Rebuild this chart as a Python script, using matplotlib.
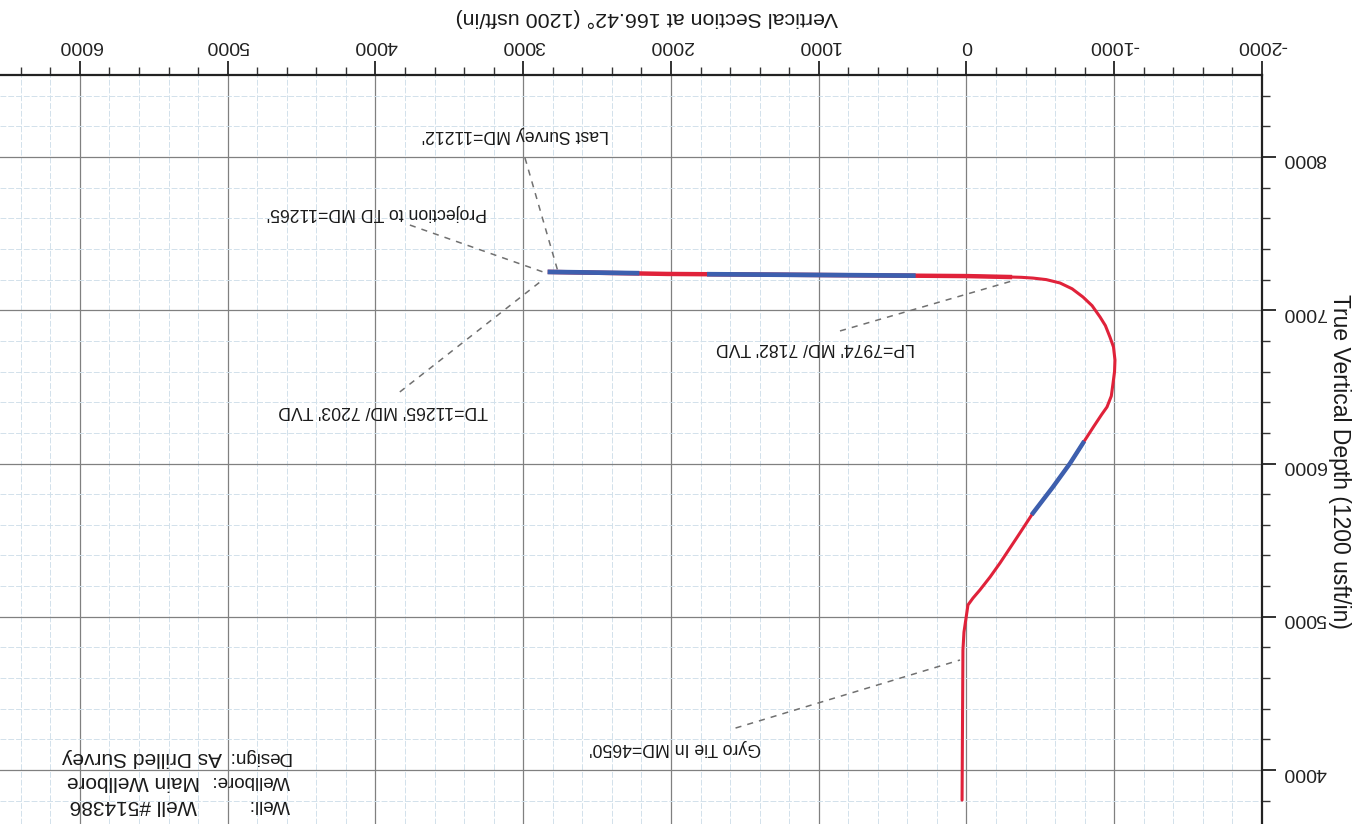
import matplotlib
matplotlib.use("Agg")
import matplotlib.pyplot as plt
from matplotlib.ticker import MultipleLocator

plt.rcParams['font.family'] = ['Liberation Sans', 'DejaVu Sans']
plt.rcParams['axes.unicode_minus'] = False

vs = [30, 24, 17, 10, -10, -44, -91, -160, -227, -340, -450, -585, -700,
      -789, -860, -915, -951, -980, -992, -1002, -1005, -995, -971, -940,
      -904, -850, -789, -715, -633, -540, -450, -370, -294, -3, 992, 2027,
      2819]
tvd = [3804, 4783, 4900, 4946, 5077, 5122, 5175, 5260, 5351, 5515, 5677,
       5847, 6000, 6134, 6240, 6320, 6369, 6440, 6525, 6600, 6675, 6760,
       6825, 6900, 6956, 7030, 7086, 7140, 7178, 7200, 7210, 7215, 7217,
       7223, 7230, 7237, 7250]
n_lateral = 5  # last points form the lateral

# segments where the blue (design) line shows through
plan_tangent_vs = [-450, -585, -700, -789]
plan_tangent_tvd = [5677, 5847, 6000, 6134]
plan_lat1_vs = [2230, 2819]
plan_lat1_tvd = [7242, 7250]
plan_lat2_vs = [360, 1740]
plan_lat2_tvd = [7226, 7235]

# annotations: label, text position, leader start, leader end
ann_labels = ["Last Survey MD=11212'", "Projection to TD MD=11265'",
              "TD=11265' MD/ 7203' TVD", "LP=7974' MD/ 7182' TVD",
              "Gyro Tie In MD=4650'"]
ann_text_xy = [(3056, 8150), (3990, 7635), (3949, 6349), (1025, 6754), (1973, 4150)]
ann_from = [(2988, 7994), (3767, 7556), (3835, 6467), (856, 6865), (1563, 4274)]
ann_to = [(2765, 7253), (2866, 7250), (2887, 7184), (-308, 7191), (44, 4718)]

info_keys = ["Design:", "Wellbore:", "Well:"]
info_vals = ["As Drilled Survey", "Main Wellbore", "Well #514386"]

W, H = 1356, 824
fig = plt.figure(figsize=(W / 100, H / 100), dpi=100)
fig.patch.set_facecolor('white')
ax = fig.add_axes([0, 0, 1262 / W, 1 - 75 / H])

ax.set_xlim(6541, -2000)
ax.set_ylim(3648, 8535)

for s in ['left', 'bottom']:
    ax.spines[s].set_visible(False)
for s in ['top', 'right']:
    ax.spines[s].set_linewidth(1.6)
    ax.spines[s].set_color('#222222')

ax.xaxis.tick_top()
ax.yaxis.tick_right()
ax.set_xticks(range(-2000, 7000, 1000))
ax.set_yticks(range(4000, 9000, 1000))
ax.xaxis.set_minor_locator(MultipleLocator(200))
ax.yaxis.set_minor_locator(MultipleLocator(200))
ax.tick_params(which='major', length=10, width=1.3, colors='#222222',
               labelsize=14, pad=5)
ax.tick_params(which='minor', length=5.5, width=1.0, colors='#333333')
ax.tick_params(axis='x', labelrotation=180)
ax.tick_params(axis='y', labelrotation=180)

ax.grid(which='major', color='#808080', lw=0.9)
ax.grid(which='minor', color='#d2e1eb', lw=0.7, ls=(0, (6, 2)))
ax.set_axisbelow(True)

ax.plot(vs, tvd, color='#e0223a', lw=2.2, solid_capstyle='round',
        solid_joinstyle='round', zorder=3)
ax.plot(vs[-n_lateral:], tvd[-n_lateral:], color='#e0223a', lw=3.2, zorder=3)
ax.plot(plan_tangent_vs, plan_tangent_tvd, color='#3d5fae', lw=3.2, zorder=4)
ax.plot(plan_lat1_vs, plan_lat1_tvd, color='#3d5fae', lw=3.4, zorder=4)
ax.plot(plan_lat2_vs, plan_lat2_tvd, color='#3d5fae', lw=3.4, zorder=4)

for lab, txy, p0, p1 in zip(ann_labels, ann_text_xy, ann_from, ann_to):
    ax.plot([p0[0], p1[0]], [p0[1], p1[1]], color='#707070', lw=1.1,
            ls=(0, (4, 4)), zorder=2)
    ax.text(txy[0], txy[1], lab, rotation=180, ha='center', va='center',
            fontsize=12.7, color='#1a1a1a', zorder=5)

# title and axis label (page is scanned upside down)
fig.text(647 / W, 1 - 18 / H, "Vertical Section at 166.42\u00b0 (1200 usft/in)",
         rotation=180, ha='center', va='center', fontsize=15.4, color='#1a1a1a')
fig.text(1340 / W, 1 - 461 / H, "True Vertical Depth (1200 usft/in)",
         rotation=-90, ha='center', va='center', fontsize=16.5, color='#1a1a1a')

# well info block, bottom left
row_y = [757, 781, 805]
val_x = [222, 200, 197]
for k, v, yy, xx in zip(info_keys, info_vals, row_y, val_x):
    fig.text(290 / W, 1 - yy / H, k, rotation=180, ha='right', va='center',
             fontsize=13.5, color='#1a1a1a')
    fig.text(xx / W, 1 - yy / H, v, rotation=180, ha='right', va='center',
             fontsize=15, color='#1a1a1a')

fig.savefig("out.png", dpi=100)
